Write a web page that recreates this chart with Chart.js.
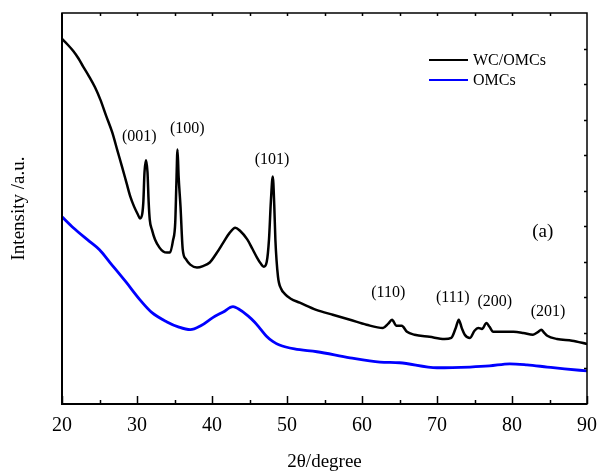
<!DOCTYPE html>
<html>
<head>
<meta charset="utf-8">
<script src="https://cdn.jsdelivr.net/npm/chart.js@4.4.0/dist/chart.umd.min.js"></script>
<style>
  html, body { margin: 0; padding: 0; background: #fff; }
  #xrd { display: block; }
</style>
</head>
<body>
<canvas id="xrd" width="599" height="472"></canvas>
<script>
// XRD patterns (2θ in degrees, intensity in arbitrary units)
const wcTheta = [20.0, 20.8, 21.5, 22.2, 22.8, 23.6, 24.4, 25.1, 25.9, 26.7, 27.4, 28.0, 28.6, 29.1, 29.6, 30.1, 30.4, 30.7, 30.85, 31.0, 31.2, 31.4, 31.55, 31.7, 32.0, 32.4, 33.0, 33.5, 34.0, 34.4, 34.8, 35.1, 35.25, 35.4, 35.55, 35.8, 36.1, 36.5, 37.1, 38.0, 38.8, 39.7, 40.6, 41.5, 42.3, 43.1, 43.7, 44.7, 45.4, 46.0, 46.5, 46.9, 47.3, 47.6, 47.85, 48.1, 48.3, 48.45, 48.8, 49.2, 49.7, 50.5, 51.7, 53.9, 56.1, 58.4, 60.6, 62.8, 63.5, 64.0, 64.6, 65.3, 66.0, 67.0, 69.0, 71.0, 71.9, 72.5, 72.9, 73.3, 73.7, 74.4, 75.0, 75.5, 76.0, 76.6, 77.0, 77.5, 79.0, 80.2, 81.5, 82.8, 83.5, 83.9, 84.3, 84.7, 86.0, 88.0, 90.0];
const wcIntensity = [1027, 1010, 993, 972, 950, 922, 891, 857, 810, 764, 712, 668, 622, 584, 556, 534, 522, 535, 570, 652, 686, 652, 570, 519, 490, 463, 440, 429, 426, 426, 460, 511, 620, 716, 640, 556, 434, 408, 392, 384, 388, 398, 424, 454, 480, 496, 488, 463, 436, 412, 395, 386, 400, 463, 570, 640, 560, 463, 358, 325, 310, 296, 285, 265, 251, 237, 223, 214, 226, 237, 220, 220, 203, 195, 189, 183, 186, 214, 237, 214, 195, 186, 206, 214, 211, 228, 217, 203, 203, 203, 200, 195, 203, 209, 200, 192, 183, 178, 169];

const omcTheta = [20.0, 21.5, 23.7, 25.0, 26.4, 28.5, 30.4, 32.0, 34.0, 35.5, 37.1, 38.5, 40.1, 41.5, 42.8, 43.5, 44.8, 45.7, 46.5, 47.3, 48.1, 49.0, 51.0, 54.0, 58.4, 62.4, 65.0, 70.0, 74.4, 77.0, 79.7, 82.0, 84.7, 87.0, 90.0];
const omcIntensity = [527, 496, 457, 434, 398, 344, 293, 257, 231, 217, 209, 220, 243, 259, 274, 268, 248, 230, 210, 190, 176, 166, 155, 147, 130, 118, 116, 102, 104, 107, 113, 110, 104, 99, 93];

const seriesNames = ['WC/OMCs', 'OMCs'];
const seriesColors = ['#000000', '#0000ff'];

const xTickStep = 10;
const yMax = 1100;

// reflection labels, placed in data coordinates
const peakLabels = ['(001)', '(100)', '(101)', '(110)', '(111)', '(200)', '(201)'];
const peakTheta = [30.3, 36.7, 48.0, 63.5, 72.1, 77.7, 84.8];
const peakLevel = [753, 773, 688, 313, 299, 288, 259];

const panelTag = '(a)';
const serif = "'Liberation Serif', 'Times New Roman', serif";

function toPoints(xs, ys) {
  return xs.map((x, i) => ({ x: x, y: ys[i] }));
}

// frame with inward tick marks, like the original plot
const framePlugin = {
  id: 'frame',
  afterDatasetsDraw(chart) {
    const { ctx, chartArea: a, scales } = chart;
    const x = scales.x, y = scales.y;
    ctx.save();
    ctx.strokeStyle = '#000';
    ctx.lineWidth = 1.5;
    ctx.strokeRect(a.left, a.top, a.right - a.left, a.bottom - a.top);
    ctx.lineWidth = 2;
    ctx.beginPath();
    ctx.moveTo(a.left, a.top);
    ctx.lineTo(a.left, a.bottom);
    ctx.lineTo(a.right, a.bottom);
    ctx.stroke();
    ctx.lineWidth = 1.5;
    ctx.beginPath();
    for (let v = 20; v <= 90; v += 5) {
      const px = Math.round(x.getPixelForValue(v)) + 0.5;
      const major = v % 10 === 0;
      ctx.moveTo(px, a.bottom);
      ctx.lineTo(px, a.bottom - (major ? 8 : 4));
      if (v > 20 && v < 90) {
        ctx.moveTo(px, a.top);
        ctx.lineTo(px, a.top + 3);
      }
    }
    for (let v = 100; v < yMax; v += 100) {
      const py = Math.round(y.getPixelForValue(v)) + 0.5;
      ctx.moveTo(a.right, py);
      ctx.lineTo(a.right - 3, py);
    }
    ctx.stroke();
    ctx.restore();
  }
};

const labelPlugin = {
  id: 'peakLabels',
  afterDatasetsDraw(chart) {
    const { ctx, chartArea: a, scales } = chart;
    ctx.save();
    ctx.fillStyle = '#000';
    ctx.textAlign = 'center';
    ctx.textBaseline = 'middle';
    ctx.font = '16px ' + serif;
    peakLabels.forEach((t, i) => {
      ctx.fillText(t, scales.x.getPixelForValue(peakTheta[i]), scales.y.getPixelForValue(peakLevel[i]));
    });
    ctx.font = '19px ' + serif;
    ctx.fillText(panelTag, scales.x.getPixelForValue(84.1), scales.y.getPixelForValue(485));

    // legend
    ctx.textAlign = 'left';
    ctx.font = '16px ' + serif;
    ctx.lineWidth = 2;
    chart.data.datasets.forEach((ds, i) => {
      const ly = a.top + 47 + i * 20;
      ctx.strokeStyle = ds.borderColor;
      ctx.beginPath();
      ctx.moveTo(a.right - 158, ly);
      ctx.lineTo(a.right - 119, ly);
      ctx.stroke();
      ctx.fillText(ds.label, a.right - 114, ly + 1);
    });
    ctx.restore();
  }
};

new Chart(document.getElementById('xrd'), {
  type: 'line',
  data: {
    datasets: [
      {
        label: seriesNames[0],
        data: toPoints(wcTheta, wcIntensity),
        borderColor: seriesColors[0],
        borderWidth: 2.5,
        pointRadius: 0,
        cubicInterpolationMode: 'monotone'
      },
      {
        label: seriesNames[1],
        data: toPoints(omcTheta, omcIntensity),
        borderColor: seriesColors[1],
        borderWidth: 2.8,
        pointRadius: 0,
        cubicInterpolationMode: 'monotone'
      }
    ]
  },
  options: {
    responsive: false,
    animation: false,
    layout: { padding: { top: 13, right: 12, left: 0, bottom: 0 } },
    plugins: {
      legend: { display: false },
      tooltip: { enabled: false }
    },
    scales: {
      x: {
        type: 'linear',
        min: 20,
        max: 90,
        grid: { display: false, drawTicks: false },
        border: { display: false },
        ticks: {
          stepSize: xTickStep,
          padding: 10,
          color: '#000',
          font: { family: serif, size: 20 }
        },
        title: {
          display: true,
          text: '2θ/degree',
          color: '#000',
          font: { family: serif, size: 19, lineHeight: 1 },
          padding: { top: 0, bottom: 0 }
        },
        afterFit: s => { s.height = 68; s.paddingLeft = 0; s.paddingRight = 0; }
      },
      y: {
        min: 0,
        max: yMax,
        grid: { display: false, drawTicks: false },
        border: { display: false },
        ticks: { display: false },
        title: {
          display: true,
          text: 'Intensity /a.u.',
          color: '#000',
          font: { family: serif, size: 19, lineHeight: 1 },
          padding: { top: 10, bottom: 0 }
        },
        afterFit: s => { s.width = 62; }
      }
    }
  },
  plugins: [framePlugin, labelPlugin]
});
</script>
</body>
</html>
